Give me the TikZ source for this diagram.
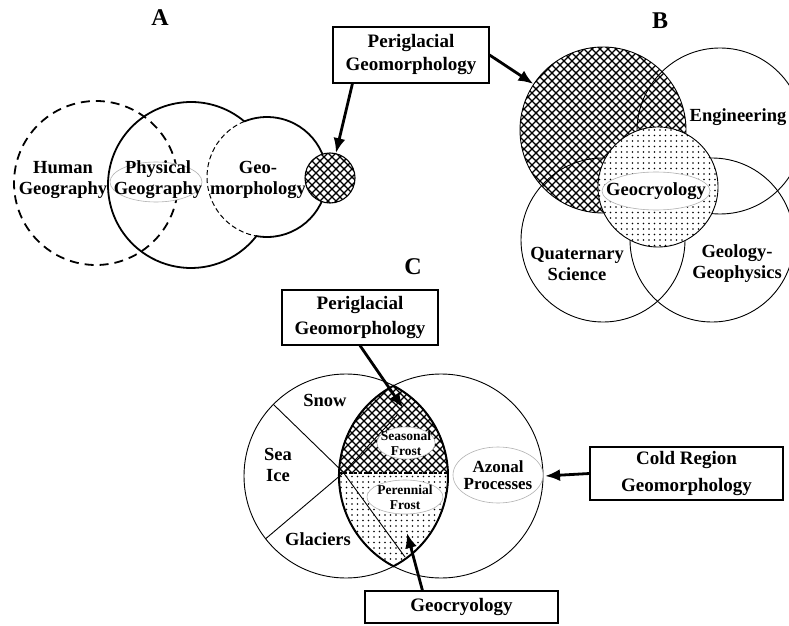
\documentclass[tikz,border=0pt]{standalone}
\usepackage{fontspec}
\setmainfont{Liberation Serif}
\usetikzlibrary{patterns,arrows.meta,calc}

\pgfdeclarepatternformonly{xhatch}{\pgfqpoint{-1pt}{-1pt}}{\pgfqpoint{9pt}{9pt}}{\pgfqpoint{8pt}{8pt}}{%
  \pgfsetlinewidth{1.25pt}%
  \pgfpathmoveto{\pgfqpoint{-1pt}{-1pt}}\pgfpathlineto{\pgfqpoint{9pt}{9pt}}%
  \pgfpathmoveto{\pgfqpoint{-1pt}{9pt}}\pgfpathlineto{\pgfqpoint{9pt}{-1pt}}%
  \pgfusepath{stroke}}
\pgfdeclarepatternformonly{fdots}{\pgfqpoint{-1pt}{-1pt}}{\pgfqpoint{1pt}{1pt}}{\pgfqpoint{5.5pt}{5.5pt}}{%
  \pgfpathcircle{\pgfqpoint{0pt}{0pt}}{0.8pt}\pgfusepath{fill}}

\tikzset{
  txt/.style={font=\fontsize{18.5}{21}\selectfont\bfseries, align=center, inner sep=0pt},
  smalltxt/.style={font=\fontsize{13.5}{15}\selectfont\bfseries, align=center, inner sep=0pt},
  midtxt/.style={font=\fontsize{17}{17.5}\selectfont\bfseries, align=center, inner sep=0pt},
  paneltxt/.style={font=\fontsize{24}{24}\selectfont\bfseries, inner sep=0pt},
  labelbox/.style={draw, line width=1.1pt, align=center, inner sep=0pt},
  bigarrow/.style={line width=2.8pt, -{Latex[length=15pt,width=12pt]}},
  thinline/.style={line width=0.9pt},
  thickline/.style={line width=1.8pt},
  greyell/.style={draw=gray!60, line width=0.6pt, fill=white},
}

\begin{document}
\begin{tikzpicture}[x=1pt,y=1pt]
\clip (0,0) rectangle (789,625);
\fill[white] (0,0) rectangle (789,625);

% ================= Panel A =================
\node[paneltxt] (labA) at (160,607) {A};
\draw[thickline, dash pattern=on 9pt off 6pt] (96,442) circle[radius=82pt];
\draw[thickline] (244.35,503.58) arc[start angle=50,end angle=322.03,radius=83pt]
                 arc[start angle=-100.1,end angle=112.2,radius=60pt] -- cycle;
\draw[line width=1pt, dash pattern=on 5pt off 3pt] (244.33,503.55) arc[start angle=112.2,end angle=259.9,radius=60pt];
\draw[greyell] (156,443) ellipse[x radius=46pt,y radius=20pt];
\node[circle, minimum size=50pt, inner sep=0pt, draw, line width=1.1pt,
      preaction={fill=white}, pattern=xhatch] (H) at (330,447) {};
\node[txt] (tHum) at (63,445) {Human\\Geography};
\node[txt] (tPhy) at (158,445) {Physical\\Geography};
\node[txt] (tGeo) at (258,445) {Geo-\\morphology};

\node[labelbox, minimum width=156pt, minimum height=56pt,
      font=\fontsize{19}{23}\selectfont\bfseries] (boxA) at (411,570) {Periglacial\\Geomorphology};

% ================= Panel B =================
\node[paneltxt] (labB) at (660,604) {B};
\draw[thinline] (720,494) circle[radius=83pt];
\draw[thinline] (603,385) circle[radius=82pt];
\draw[thinline] (712,385) circle[radius=82pt];
\node[circle, minimum size=166pt, inner sep=0pt, draw, thinline, pattern=xhatch] (HB) at (603,495) {};
\node[circle, minimum size=120pt, inner sep=0pt, draw, thinline,
      preaction={fill=white}, pattern=fdots] (D) at (658,438) {};
\draw[greyell] (656,434) ellipse[x radius=54pt,y radius=19pt];
\node[txt] (tEng) at (738,508) {Engineering};
\node[txt] (tQua) at (577,361) {Quaternary\\Science};
\node[txt] (tGGe) at (737,361) {Geology-\\Geophysics};
\node[txt] (tGcB) at (656,434) {Geocryology};

\draw[bigarrow] ($(boxA.south west)+(20,0)$) -- (H);
\draw[bigarrow] (boxA.east) -- (HB);

% ================= Panel C =================
\node[paneltxt] (labC) at (413,358) {C};
\draw[thinline] (346,149) circle[radius=102pt];
\draw[thinline] (441,149) circle[radius=102pt];
\draw[thinline] (273.4,220.6) -- (343,153) -- (405,68);
\draw[thinline] (265.6,86.2) -- (342,151) -- (398,211);
\begin{scope}
  \clip (393.48,239.25) arc[start angle=117.76,end angle=242.24,radius=102pt]
        arc[start angle=-62.24,end angle=62.24,radius=102pt] -- cycle;
  \fill[pattern=xhatch] (330,152) rectangle (460,245);
  \fill[pattern=fdots] (330,50) rectangle (460,152);
\end{scope}
\draw[line width=2pt] (393.48,239.25) arc[start angle=117.76,end angle=242.24,radius=102pt]
        arc[start angle=-62.24,end angle=62.24,radius=102pt] -- cycle;
\draw[line width=1.5pt, dash pattern=on 3pt off 2pt] (339,152) -- (448,152);

\draw[greyell] (406,182) ellipse[x radius=29pt,y radius=16pt];
\draw[greyell] (405,128) ellipse[x radius=38pt,y radius=17pt];
\draw[greyell] (498,150) ellipse[x radius=45pt,y radius=28pt];

\node[txt] (tSnow) at (325,225) {Snow};
\node[txt] (tSea) at (278,160) {Sea\\Ice};
\node[txt] (tGla) at (318,86) {Glaciers};
\node[smalltxt] (tSea2) at (406,182) {Seasonal\\Frost};
\node[smalltxt] (tPer) at (405,128) {Perennial\\Frost};
\node[midtxt] (tAzo) at (498,150) {Azonal\\Processes};

\node[labelbox, minimum width=156pt, minimum height=55pt,
      font=\fontsize{19}{25}\selectfont\bfseries] (boxC1) at (360,307.5) {Periglacial\\Geomorphology};
\node[labelbox, minimum width=193pt, minimum height=32pt,
      font=\fontsize{19}{23}\selectfont\bfseries] (boxC2) at (461.5,18) {Geocryology};
\node[labelbox, minimum width=193pt, minimum height=53pt,
      font=\fontsize{19}{27}\selectfont\bfseries] (boxC3) at (686.5,151.5) {Cold Region\\Geomorphology};

\coordinate (tipC1) at (403,217);
\coordinate (tipC2) at (407,92);
\coordinate (tipC3) at (545,149);
\draw[bigarrow] (boxC1.south) -- (tipC1);
\draw[bigarrow] ($(boxC2.north west)+(58,0)$) -- (tipC2);
\draw[bigarrow] (boxC3.west) -- (tipC3);
\end{tikzpicture}
\end{document}
